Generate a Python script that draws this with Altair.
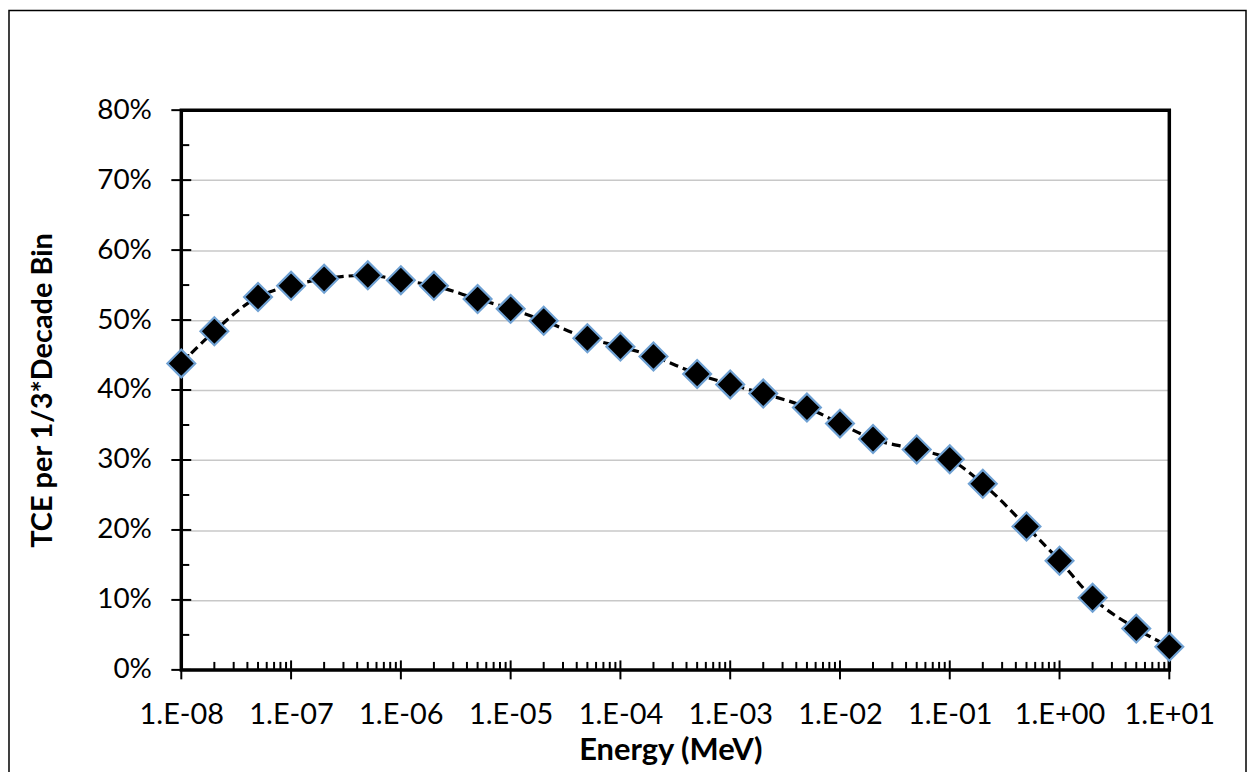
import altair as alt
import pandas as pd

# ---- data ----
energy = [1e-8, 2e-8, 5e-8, 1e-7, 2e-7, 5e-7, 1e-6, 2e-6, 5e-6,
          1e-5, 2e-5, 5e-5, 1e-4, 2e-4, 5e-4, 1e-3, 2e-3, 5e-3,
          1e-2, 2e-2, 5e-2, 1e-1, 2e-1, 5e-1, 1, 2, 5, 10]
tce = [0.438, 0.484, 0.533, 0.549, 0.559, 0.564, 0.557, 0.549, 0.530,
       0.516, 0.499, 0.474, 0.462, 0.448, 0.423, 0.408, 0.395, 0.375,
       0.352, 0.330, 0.315, 0.301, 0.266, 0.205, 0.156, 0.103, 0.059, 0.033]

x_major = [1e-8, 1e-7, 1e-6, 1e-5, 1e-4, 1e-3, 1e-2, 1e-1, 1, 10]
x_minor = [m * d for d in x_major[:-1] for m in range(2, 10)]
y_major = [0, 0.1, 0.2, 0.3, 0.4, 0.5, 0.6, 0.7, 0.8]
y_minor = [0.05, 0.15, 0.25, 0.35, 0.45, 0.55, 0.65, 0.75]

W, H = 992, 562
FONT = "Lato"

df = pd.DataFrame({"energy": energy, "tce": tce})
xscale = alt.Scale(type="log", domain=[1e-8, 10])
yscale = alt.Scale(domain=[0, 0.8])

label_expr = ("'1.E' + (datum.value < 1 ? '-' : '+') + "
              "(abs(round(log(datum.value)/LN10)) < 10 ? '0' : '') + "
              "abs(round(log(datum.value)/LN10))")

x_axis = alt.Axis(values=x_major, labelExpr=label_expr, ticks=False, domain=False,
                  grid=False, labelFont=FONT, labelFontSize=29, labelColor="black",
                  labelPadding=31, labelFlush=False, labelOverlap=False,
                  title="Energy (MeV)", titleFont=FONT, titleFontSize=31,
                  titleFontWeight="bold", titleColor="black",
                  titleX=491, titleY=90, titleBaseline="alphabetic")
y_axis = alt.Axis(values=y_major, format=".0%", ticks=False, domain=False,
                  grid=True, gridColor="#c8c8c8", gridWidth=1.5,
                  labelFont=FONT, labelFontSize=28, labelColor="black",
                  labelPadding=30, labelFlush=False, labelOverlap=False,
                  title="TCE per 1/3*Decade Bin", titleFont=FONT, titleFontSize=29,
                  titleFontWeight="bold", titleColor="black",
                  titleX=-139, titleY=281, titleBaseline="middle")

frame = alt.Chart(pd.DataFrame({"a": [0]})).mark_rect(
    fillOpacity=0, stroke="black", strokeWidth=1.5
).encode(x=alt.value(-173), x2=alt.value(W + 77), y=alt.value(-100), y2=alt.value(H + 110))

plot_border = alt.Chart(pd.DataFrame({"a": [0]})).mark_rect(
    fillOpacity=0, stroke="black", strokeWidth=3.5
).encode(x=alt.value(0), x2=alt.value(W), y=alt.value(0), y2=alt.value(H))

line = alt.Chart(df).mark_line(
    color="black", strokeWidth=3.2, strokeDash=[9, 5], interpolate="monotone"
).encode(
    x=alt.X("energy:Q", scale=xscale, axis=x_axis),
    y=alt.Y("tce:Q", scale=yscale, axis=y_axis),
)

points = alt.Chart(df).mark_point(
    shape="diamond", filled=True, fill="black", stroke="#6fa1d3",
    strokeWidth=2.2, size=780, opacity=1, fillOpacity=1, strokeOpacity=1
).encode(x=alt.X("energy:Q", scale=xscale), y=alt.Y("tce:Q", scale=yscale))

xmaj = alt.Chart(pd.DataFrame({"v": x_major})).mark_tick(
    orient="vertical", size=19, thickness=2, color="black", opacity=1
).encode(x=alt.X("v:Q", scale=xscale), y=alt.datum(0))

xmin = alt.Chart(pd.DataFrame({"v": x_minor})).mark_tick(
    orient="vertical", size=8, thickness=2, color="black", opacity=1, yOffset=-4
).encode(x=alt.X("v:Q", scale=xscale), y=alt.datum(0))

ymaj = alt.Chart(pd.DataFrame({"v": y_major})).mark_tick(
    orient="horizontal", size=20, thickness=2, color="black", opacity=1
).encode(y=alt.Y("v:Q", scale=yscale), x=alt.datum(1e-8))

ymin = alt.Chart(pd.DataFrame({"v": y_minor})).mark_tick(
    orient="horizontal", size=8, thickness=2, color="black", opacity=1, xOffset=4
).encode(y=alt.Y("v:Q", scale=yscale), x=alt.datum(1e-8))

chart = alt.layer(frame, xmaj, xmin, ymaj, ymin, line, plot_border, points).properties(
    width=W, height=H, autosize="none",
    padding={"left": 174, "top": 101, "right": 78, "bottom": 110},
    background="white",
).configure_view(stroke=None)

chart.save("out.html", embed_options={"renderer": "svg", "actions": False})
